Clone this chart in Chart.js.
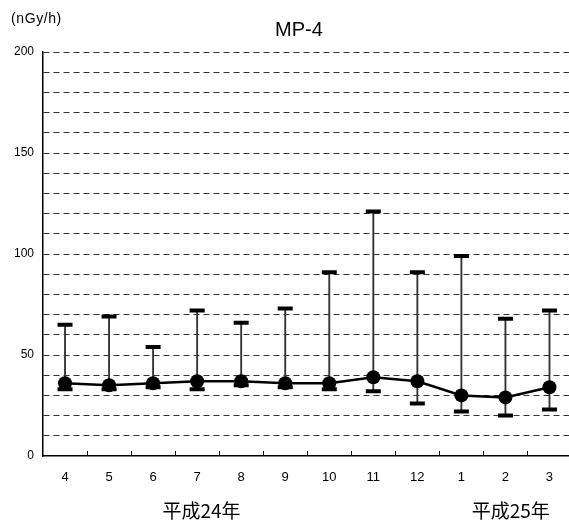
<!DOCTYPE html>
<html lang="ja">
<head>
<meta charset="utf-8">
<title>MP-4</title>
<script src="https://cdn.jsdelivr.net/npm/chart.js@4.4.1/dist/chart.umd.min.js"></script>
<style>
  html, body { margin: 0; padding: 0; overflow: hidden; background: #fff; }
  #wrap { width: 583px; height: 522px; }
</style>
</head>
<body>
<div id="wrap"><canvas id="mpChart" width="583" height="522"></canvas></div>
<script>
// MP-4 空間線量率（月ごとの平均・最大・最小）

const months = ['4', '5', '6', '7', '8', '9', '10', '11', '12', '1', '2', '3'];
const meanValues = [36, 35, 36, 37, 37, 36, 36, 39, 37, 30, 29, 34];
const maxValues = [65, 69, 54, 72, 66, 73, 91, 121, 91, 99, 68, 72];
const minValues = [33, 33, 34, 33, 35, 34, 33, 32, 26, 22, 20, 23];
const yTickLabels = [0, 50, 100, 150, 200];
const yearLabels = ['平成24年', '平成25年'];

const FONT = '"Liberation Sans", Arial, sans-serif';

// 最小〜最大の縦線
const rangeData = months.map((_, i) => [minValues[i], maxValues[i]]);

// ---------- 文字・内向き目盛り ----------

const decorPlugin = {
  id: 'decor',
  afterDraw(chart) {
    const ctx = chart.ctx;
    const x = chart.scales.x;
    const area = chart.chartArea;

    ctx.save();
    ctx.strokeStyle = '#000';
    ctx.lineWidth = 1;

    // x軸の目盛り（カテゴリの境目、上向き）
    ctx.beginPath();
    for (let i = 1; i < months.length; i++) {
      const px = Math.round((x.getPixelForValue(i - 1) + x.getPixelForValue(i)) / 2) + 0.5;
      ctx.moveTo(px, area.bottom);
      ctx.lineTo(px, area.bottom - 5);
    }
    ctx.stroke();

    ctx.fillStyle = '#000';
    // タイトル
    ctx.font = '20px ' + FONT;
    ctx.textAlign = 'center';
    ctx.textBaseline = 'middle';
    ctx.fillText('MP-4', 299, 30);

    // 単位
    ctx.font = '14px ' + FONT;
    ctx.textAlign = 'left';
    ctx.letterSpacing = '0.6px';
    ctx.fillText('(nGy/h)', 11, 19);
    ctx.letterSpacing = '0px';

    // 年の表示
    ctx.font = '19px "Noto Sans CJK JP", sans-serif';
    ctx.textAlign = 'center';
    const anchors = [3.1, 10.12];
    yearLabels.forEach((label, i) => {
      const px = x.getPixelForValue(0) + (x.getPixelForValue(1) - x.getPixelForValue(0)) * anchors[i];
      ctx.fillText(label, px, 511);
    });
    ctx.restore();
  }
};

// ---------- グラフ ----------

function renderChart() {
  const canvas = document.getElementById('mpChart');

  new Chart(canvas, {
    type: 'bar',
    data: {
      labels: months,
      datasets: [
        {
          label: '平均',
          type: 'line',
          data: meanValues,
          borderColor: '#000',
          backgroundColor: '#000',
          borderWidth: 2.5,
          pointRadius: 7,
          pointBackgroundColor: '#000',
          pointBorderColor: '#000',
          pointBorderWidth: 0,
          tension: 0,
          order: 1
        },
        {
          label: '最大',
          type: 'line',
          data: maxValues,
          showLine: false,
          pointStyle: 'line',
          pointRadius: 7.5,
          pointBorderWidth: 4,
          pointBorderColor: '#000',
          order: 2
        },
        {
          label: '最小',
          type: 'line',
          data: minValues,
          showLine: false,
          pointStyle: 'line',
          pointRadius: 7.5,
          pointBorderWidth: 4,
          pointBorderColor: '#000',
          order: 2
        },
        {
          label: '範囲',
          data: rangeData,
          backgroundColor: '#333',
          borderWidth: 0,
          barThickness: 1.2,
          order: 3
        }
      ]
    },
    options: {
      responsive: false,
      animation: false,
      layout: { padding: { top: 52, right: 0, bottom: 0, left: 0 } },
      plugins: {
        legend: { display: false },
        tooltip: { enabled: false },
        title: { display: false }
      },
      scales: {
        x: {
          offset: true,
          grid: { display: false, drawTicks: false },
          border: { display: true, color: '#000', width: 1.5 },
          ticks: {
            color: '#000',
            font: { family: FONT, size: 13 },
            padding: 14,
            maxRotation: 0
          },
          afterFit: (scale) => { scale.height = 66; }
        },
        y: {
          min: 0,
          max: 200,
          grid: {
            color: (ctx) => (ctx.tick && ctx.tick.value === 0 ? 'rgba(0,0,0,0)' : '#333'),
            lineWidth: 1,
            drawTicks: false
          },
          border: { display: true, color: '#000', width: 1.5, dash: [6, 4] },
          ticks: {
            stepSize: 10,
            color: '#000',
            font: { family: FONT, size: 12 },
            padding: 9,
            callback: (v) => (yTickLabels.includes(v) ? String(v) : '')
          },
          afterFit: (scale) => { scale.width = 43; }
        }
      }
    },
    plugins: [decorPlugin]
  });
}

document.addEventListener('DOMContentLoaded', renderChart);
</script>
</body>
</html>
